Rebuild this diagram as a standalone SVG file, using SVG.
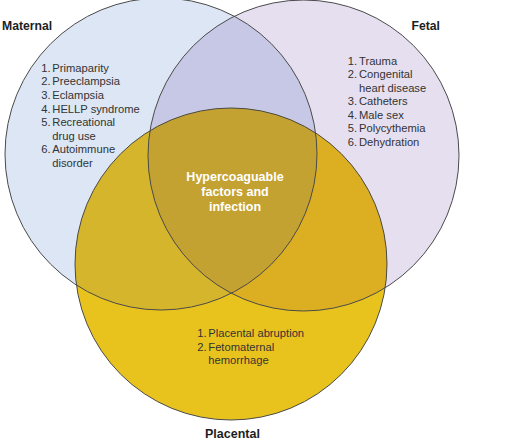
<svg xmlns="http://www.w3.org/2000/svg" width="520" height="443" viewBox="0 0 520 443">
<style>
.ring{fill:none;stroke:#4a4a4a;stroke-width:1}
.lbl{font-family:"Liberation Sans",Arial,sans-serif;font-weight:bold;font-size:12.2px;fill:#1e1e1e}
.lst{font-family:"Liberation Sans",Arial,sans-serif;font-size:11.2px;fill:#333}
.num{text-anchor:end}
.ctr{font-family:"Liberation Sans",Arial,sans-serif;font-weight:bold;font-size:12.5px;fill:#fff;text-anchor:middle}
</style>
<defs>
<clipPath id="cM"><circle cx="161" cy="154" r="156"/></clipPath>
<clipPath id="cF"><circle cx="303.5" cy="155.5" r="155.5"/></clipPath>
<clipPath id="cP"><circle cx="231" cy="264" r="156"/></clipPath>
</defs>
<rect width="520" height="443" fill="#fff"/>
<g id="fills">
<circle cx="161" cy="154" r="156" fill="#dce6f4"/>
<circle cx="303.5" cy="155.5" r="155.5" fill="#e6dff0"/>
<circle cx="303.5" cy="155.5" r="155.5" fill="#c7c8e6" clip-path="url(#cM)"/>
<circle cx="231" cy="264" r="156" fill="#e9c31d"/>
<g clip-path="url(#cP)">
<circle cx="161" cy="154" r="156" fill="#d4b52c"/>
<circle cx="303.5" cy="155.5" r="155.5" fill="#dcae22"/>
<circle cx="303.5" cy="155.5" r="155.5" fill="#c4a232" clip-path="url(#cM)"/>
</g>
</g>
<g id="maternal">
<circle class="ring" cx="161" cy="154" r="156"/>
<text class="lbl" x="2" y="30">Maternal</text>
<g class="lst">
<text class="num" x="50.5" y="71.7">1.</text><text x="52.3" y="71.7">Primaparity</text>
<text class="num" x="50.5" y="85.3">2.</text><text x="52.3" y="85.3">Preeclampsia</text>
<text class="num" x="50.5" y="98.9">3.</text><text x="52.3" y="98.9">Eclampsia</text>
<text class="num" x="50.5" y="112.5">4.</text><text x="52.3" y="112.5">HELLP syndrome</text>
<text class="num" x="50.5" y="126.1">5.</text><text x="52.3" y="126.1">Recreational</text>
<text x="52.3" y="139.7">drug use</text>
<text class="num" x="50.5" y="153.3">6.</text><text x="52.3" y="153.3">Autoimmune</text>
<text x="52.3" y="166.9">disorder</text>
</g>
</g>
<g id="fetal">
<circle class="ring" cx="303.5" cy="155.5" r="155.5"/>
<text class="lbl" x="411.5" y="30">Fetal</text>
<g class="lst">
<text class="num" x="357.2" y="64.7">1.</text><text x="359" y="64.7">Trauma</text>
<text class="num" x="357.2" y="78.2">2.</text><text x="359" y="78.2">Congenital</text>
<text x="359" y="91.8">heart disease</text>
<text class="num" x="357.2" y="105.3">3.</text><text x="359" y="105.3">Catheters</text>
<text class="num" x="357.2" y="118.9">4.</text><text x="359" y="118.9">Male sex</text>
<text class="num" x="357.2" y="132.4">5.</text><text x="359" y="132.4">Polycythemia</text>
<text class="num" x="357.2" y="146">6.</text><text x="359" y="146">Dehydration</text>
</g>
</g>
<g id="placental">
<circle class="ring" cx="231" cy="264" r="156"/>
<text class="lbl" x="205" y="438" style="font-size:12.5px">Placental</text>
<g class="lst">
<text class="num" x="206.5" y="337.3">1.</text><text x="208.3" y="337.3">Placental abruption</text>
<text class="num" x="206.5" y="350.8">2.</text><text x="208.3" y="350.8">Fetomaternal</text>
<text x="208.3" y="364.4">hemorrhage</text>
</g>
</g>
<g id="center">
<text class="ctr" x="235" y="180.5">Hypercoaguable</text>
<text class="ctr" x="235" y="195.8">factors and</text>
<text class="ctr" x="235" y="211">infection</text>
</g>
</svg>
